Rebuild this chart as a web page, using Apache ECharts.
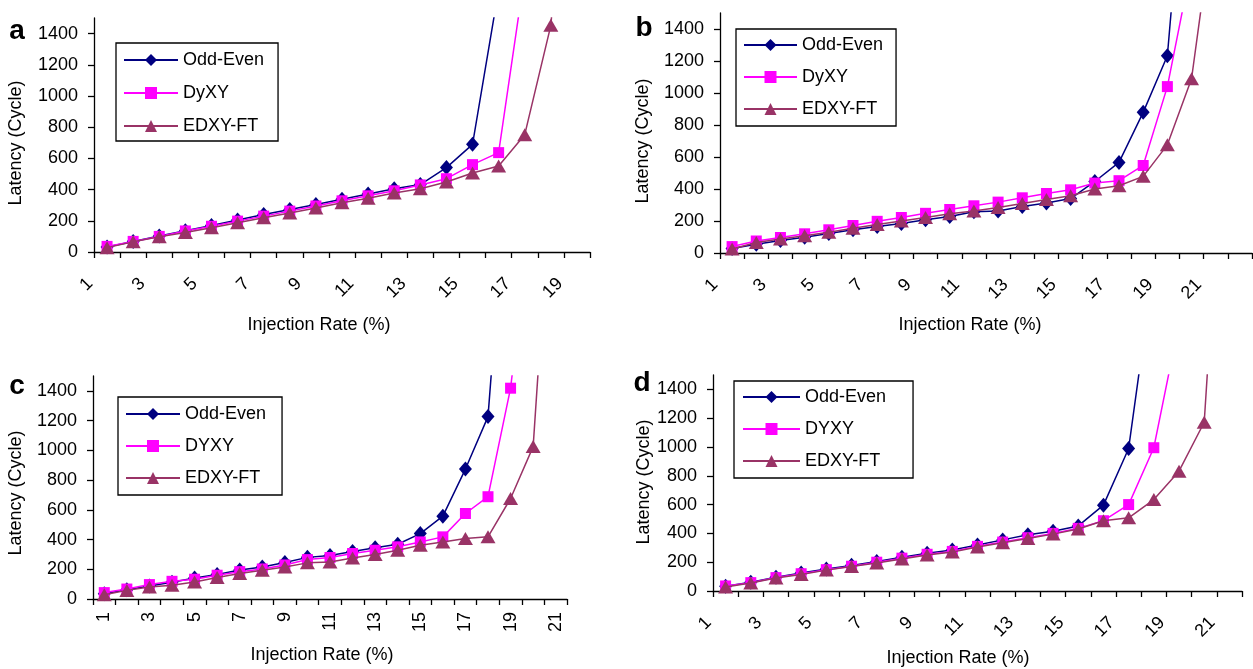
<!DOCTYPE html>
<html>
<head>
<meta charset="utf-8">
<script src="https://cdn.jsdelivr.net/npm/echarts@6.0.0/dist/echarts.min.js"></script>
<style>
  html, body { margin: 0; padding: 0; background: #fff; }
  #chart { width: 1253px; height: 669px; }
</style>
</head>
<body>
<div id="chart"></div>
<script>
// categories (injection rate %)
const catsA = ['1','2','3','4','5','6','7','8','9','10','11','12','13','14','15','16','17','18','19'];
const catsB = ['1','2','3','4','5','6','7','8','9','10','11','12','13','14','15','16','17','18','19','20','21','22'];
const catsC = ['1','2','3','4','5','6','7','8','9','10','11','12','13','14','15','16','17','18','19','20','21'];
const catsD = ['1','2','3','4','5','6','7','8','9','10','11','12','13','14','15','16','17','18','19','20','21'];

const yTicks = [0, 200, 400, 600, 800, 1000, 1200, 1400];

// panel a
const oddEvenA = [32, 68, 103, 137, 170, 205, 240, 272, 305, 338, 372, 405, 432, 541, 690, 1682, null, null, null];
const dyxyA    = [36, 68, 100, 135, 165, 198, 230, 262, 295, 328, 360, 392, 430, 470, 560, 637, 1784, null, null];
const edxyA    = [28, 65, 97, 125, 155, 188, 220, 250, 282, 315, 345, 378, 405, 449, 506, 551, 752, 1453, 3500];

// panel b
const oddEvenB = [28, 55, 78, 98, 122, 145, 165, 185, 208, 228, 258, 262, 290, 312, 340, 447, 566, 879, 1233, 3000, null, null];
const dyxyB    = [40, 75, 97, 120, 145, 172, 198, 222, 248, 272, 295, 318, 345, 372, 395, 437, 452, 547, 1040, 1800, null, null];
const edxyB    = [25, 65, 88, 108, 130, 155, 178, 200, 222, 245, 262, 285, 310, 335, 358, 400, 420, 479, 676, 1089, 2200, null];

// panel c
const oddEvenC = [35, 62, 88, 112, 142, 165, 195, 215, 245, 280, 292, 320, 345, 368, 440, 557, 874, 1227, 3200, null, null];
const dyxyC    = [43, 67, 97, 119, 133, 160, 184, 202, 229, 265, 279, 306, 328, 351, 384, 418, 575, 688, 1418, 2700, null];
const edxyC    = [29, 58, 81, 92, 115, 144, 171, 193, 216, 243, 249, 276, 299, 328, 362, 384, 407, 418, 676, 1025, 3300];

// panel d
const oddEvenD = [33, 60, 95, 125, 152, 178, 205, 235, 262, 285, 320, 355, 390, 415, 452, 596, 990, 2260, null, null, null];
const dyxyD    = [35, 58, 93, 120, 148, 172, 200, 228, 255, 275, 310, 340, 370, 400, 435, 488, 600, 995, 1860, null, null];
const edxyD    = [28, 55, 90, 115, 145, 170, 195, 222, 250, 270, 305, 335, 365, 395, 430, 488, 508, 635, 832, 1172, 3900];

const FONT = '"Liberation Sans", Arial, sans-serif';

const styleByName = {
  'Odd-Even': { color: '#000080', symbol: 'diamond', symbolSize: [13, 15] },
  'DyXY': { color: '#FF00FF', symbol: 'rect', symbolSize: 11 },
  'DYXY': { color: '#FF00FF', symbol: 'rect', symbolSize: 11 },
  'EDXY-FT': { color: '#993366', symbol: 'triangle', symbolSize: [15, 13] },
};

// layout of each panel (pixels)
const panels = [
  {
    letter: 'a', cats: catsA, rotate: 45,
    names: ['Odd-Even', 'DyXY', 'EDXY-FT'], data: [oddEvenA, dyxyA, edxyA],
    grid: { left: 94, top: 18, width: 496, height: 234 },
    legend: { left: 116, top: 43, padding: [8, 14, 6, 7], itemWidth: 54, itemGap: 15 },
    letterPos: [17, 31], xTitle: [319, 325], yTitle: [16, 143],
  },
  {
    letter: 'b', cats: catsB, rotate: 45,
    names: ['Odd-Even', 'DyXY', 'EDXY-FT'], data: [oddEvenB, dyxyB, edxyB],
    grid: { left: 720, top: 13, width: 532, height: 240 },
    legend: { left: 736, top: 29, padding: [7, 13, 8, 7], itemWidth: 53, itemGap: 14 },
    letterPos: [644, 28], xTitle: [970, 325], yTitle: [643, 141],
  },
  {
    letter: 'c', cats: catsC, rotate: 90,
    names: ['Odd-Even', 'DYXY', 'EDXY-FT'], data: [oddEvenC, dyxyC, edxyC],
    grid: { left: 93, top: 376, width: 474, height: 223 },
    legend: { left: 118, top: 397, padding: [8, 16, 8, 7], itemWidth: 54, itemGap: 14 },
    letterPos: [17, 386], xTitle: [322, 655], yTitle: [16, 493],
  },
  {
    letter: 'd', cats: catsD, rotate: 45,
    names: ['Odd-Even', 'DYXY', 'EDXY-FT'], data: [oddEvenD, dyxyD, edxyD],
    grid: { left: 713, top: 375, width: 529, height: 216 },
    legend: { left: 734, top: 381, padding: [7, 27, 8, 8], itemWidth: 57, itemGap: 14 },
    letterPos: [642, 383], xTitle: [958, 658], yTitle: [644, 482],
  },
];

const axisLineStyle = { color: '#000', width: 1.3 };

const option = {
  animation: false,
  backgroundColor: '#fff',
  grid: [],
  xAxis: [],
  yAxis: [],
  legend: [],
  series: [],
  graphic: [],
};

panels.forEach((p, i) => {
  option.grid.push(p.grid);
  // 45 degree labels sit lower-left of the category centre, like the original
  const slanted = p.rotate === 45;
  option.xAxis.push({
    type: 'category',
    gridIndex: i,
    data: p.cats,
    boundaryGap: true,
    axisLine: { show: true, lineStyle: axisLineStyle },
    axisTick: { show: true, interval: 0, length: 6, lineStyle: axisLineStyle },
    axisLabel: {
      interval: 1,
      rotate: p.rotate,
      margin: slanted ? 12 : 13,
      padding: slanted ? [0, 24, 0, 0] : [0, 0, 0, 0],
      fontSize: 18,
      fontFamily: FONT,
      color: '#000',
    },
    splitLine: { show: false },
  });
  option.yAxis.push({
    type: 'value',
    gridIndex: i,
    min: 0,
    max: 1500,
    axisLine: { show: true, lineStyle: axisLineStyle },
    axisTick: { show: true, length: 6, customValues: yTicks, lineStyle: axisLineStyle },
    axisLabel: {
      customValues: yTicks,
      formatter: (v) => String(v),
      margin: 16,
      fontSize: 18,
      fontFamily: FONT,
      color: '#000',
    },
    splitLine: { show: false },
  });
  p.names.forEach((name, k) => {
    const s = styleByName[name];
    option.series.push({
      type: 'line',
      name: name,
      xAxisIndex: i,
      yAxisIndex: i,
      data: p.data[k],
      symbol: s.symbol,
      symbolSize: s.symbolSize,
      showAllSymbol: true,
      clip: true,
      lineStyle: { color: s.color, width: 1.5 },
      itemStyle: { color: s.color },
      z: 2 + k,
    });
  });
  option.legend.push({
    data: p.names,
    orient: 'vertical',
    left: p.legend.left,
    top: p.legend.top,
    padding: p.legend.padding,
    itemWidth: p.legend.itemWidth,
    itemHeight: 15,
    itemGap: p.legend.itemGap,
    selectedMode: false,
    borderColor: '#000',
    borderWidth: 1.3,
    backgroundColor: '#fff',
    textStyle: { fontSize: 18, fontFamily: FONT, color: '#000' },
  });
  // panel letter and axis titles
  option.graphic.push({
    type: 'text', x: p.letterPos[0], y: p.letterPos[1],
    style: { text: p.letter, fontSize: 28, fontWeight: 'bold', fontFamily: FONT, fill: '#000', align: 'center', verticalAlign: 'middle' },
  });
  option.graphic.push({
    type: 'text', x: p.xTitle[0], y: p.xTitle[1],
    style: { text: 'Injection Rate (%)', fontSize: 18, fontFamily: FONT, fill: '#000', align: 'center', verticalAlign: 'middle' },
  });
  option.graphic.push({
    type: 'text', x: p.yTitle[0], y: p.yTitle[1], rotation: Math.PI / 2,
    style: { text: 'Latency (Cycle)', fontSize: 18, fontFamily: FONT, fill: '#000', align: 'center', verticalAlign: 'middle' },
  });
});

const chart = echarts.init(document.getElementById('chart'), null, { renderer: 'canvas' });
chart.setOption(option);
</script>
</body>
</html>
